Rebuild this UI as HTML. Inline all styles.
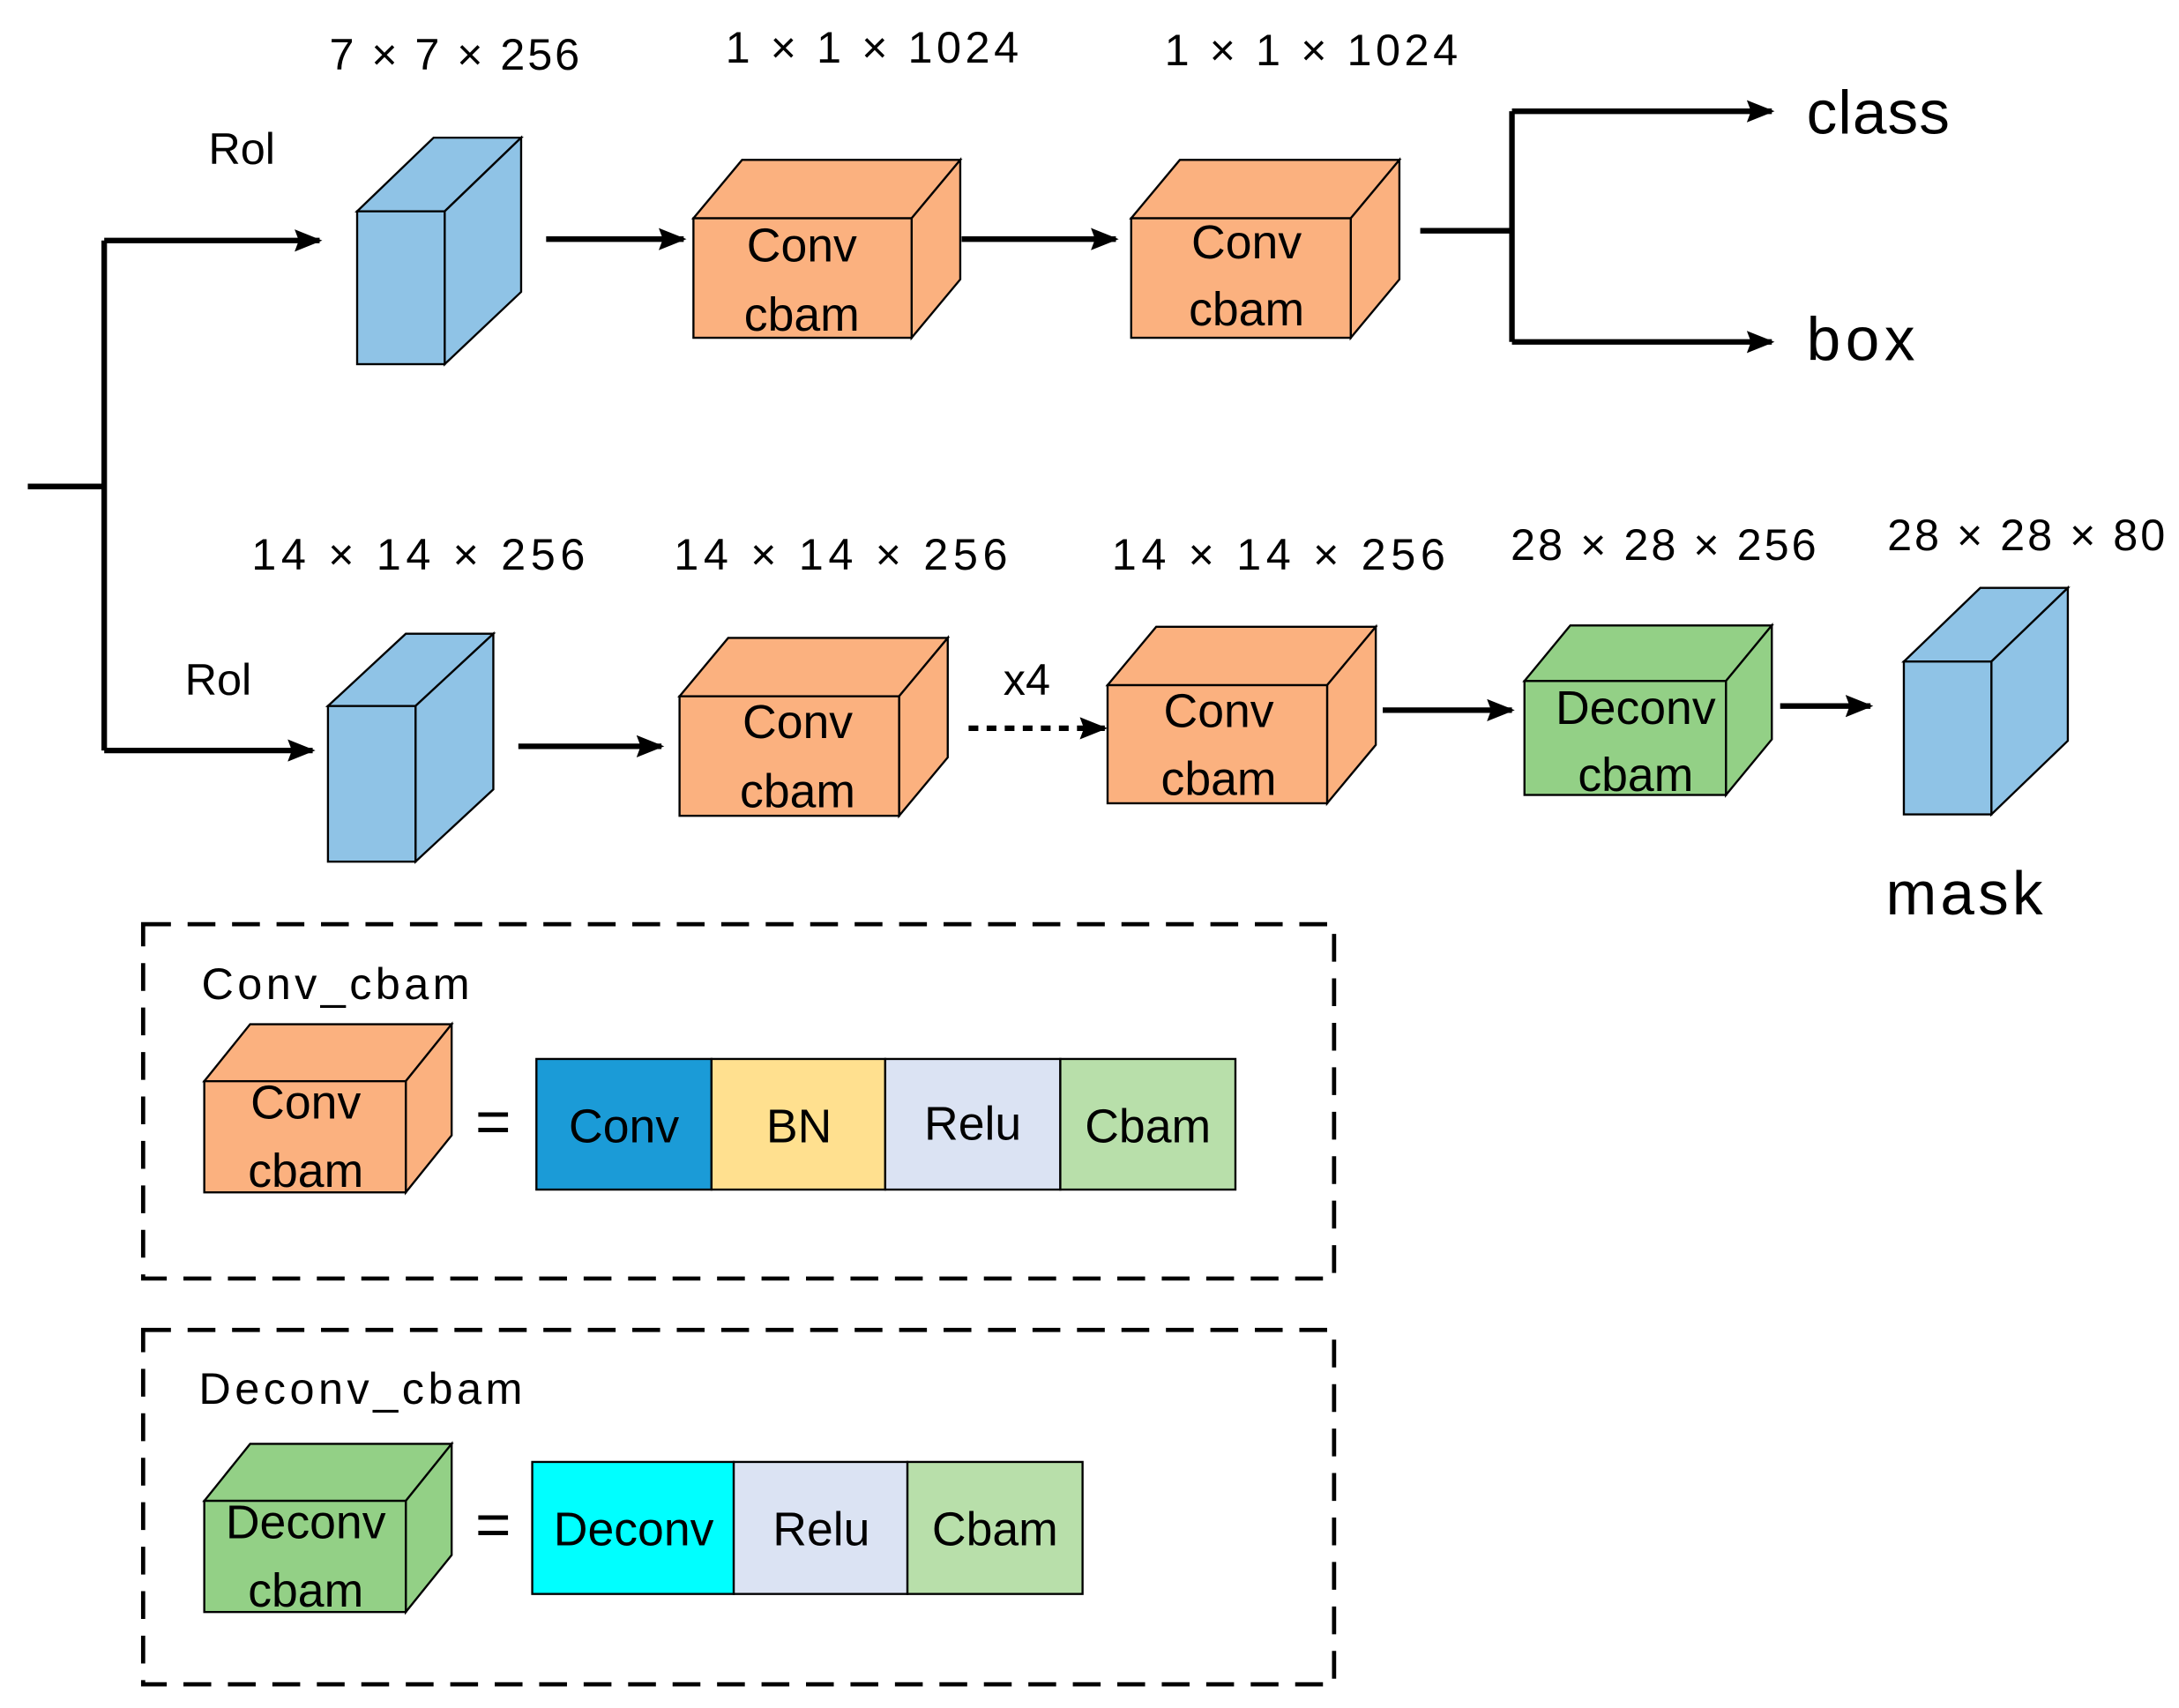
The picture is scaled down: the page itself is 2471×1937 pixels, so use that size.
<!DOCTYPE html>
<html><head><meta charset="utf-8"><style>
html,body{margin:0;padding:0;background:#fff;}
svg{display:block;}
text{font-family:"Liberation Sans",sans-serif;fill:#000;}
</style></head><body>
<svg width="2471" height="1937" viewBox="0 0 1568 1229" xmlns="http://www.w3.org/2000/svg">
<defs>
<marker id="ah2" markerWidth="20" markerHeight="16" refX="18" refY="8" orient="auto" markerUnits="userSpaceOnUse" viewBox="0 0 20 16">
<path d="M0,0 L20,8 L0,16 L3,8 z" fill="#000"/></marker>
</defs>
<g stroke="#000" stroke-width="1.5" stroke-linejoin="miter">
<polygon points="257,152 312,99 375,99 320,152" fill="#8fc3e6"/>
<polygon points="320,152 375,99 375,210 320,262" fill="#8fc3e6"/>
<rect x="257" y="152" width="63" height="110" fill="#8fc3e6"/>
<polygon points="499,157 534,115 691,115 656,157" fill="#fbb17f"/>
<polygon points="656,157 691,115 691,201 656,243" fill="#fbb17f"/>
<rect x="499" y="157" width="157" height="86" fill="#fbb17f"/>
<polygon points="814,157 849,115 1007,115 972,157" fill="#fbb17f"/>
<polygon points="972,157 1007,115 1007,201 972,243" fill="#fbb17f"/>
<rect x="814" y="157" width="158" height="86" fill="#fbb17f"/>
<polygon points="236,508 292,456 355,456 299,508" fill="#8fc3e6"/>
<polygon points="299,508 355,456 355,568 299,620" fill="#8fc3e6"/>
<rect x="236" y="508" width="63" height="112" fill="#8fc3e6"/>
<polygon points="489,501 524,459 682,459 647,501" fill="#fbb17f"/>
<polygon points="647,501 682,459 682,545 647,587" fill="#fbb17f"/>
<rect x="489" y="501" width="158" height="86" fill="#fbb17f"/>
<polygon points="797,493 832,451 990,451 955,493" fill="#fbb17f"/>
<polygon points="955,493 990,451 990,536 955,578" fill="#fbb17f"/>
<rect x="797" y="493" width="158" height="85" fill="#fbb17f"/>
<polygon points="1097,490 1130,450 1275,450 1242,490" fill="#93d086"/>
<polygon points="1242,490 1275,450 1275,532 1242,572" fill="#93d086"/>
<rect x="1097" y="490" width="145" height="82" fill="#93d086"/>
<polygon points="1370,476 1425,423 1488,423 1433,476" fill="#8fc3e6"/>
<polygon points="1433,476 1488,423 1488,533 1433,586" fill="#8fc3e6"/>
<rect x="1370" y="476" width="63" height="110" fill="#8fc3e6"/>
<polygon points="147,778 180,737 325,737 292,778" fill="#fbb17f"/>
<polygon points="292,778 325,737 325,817 292,858" fill="#fbb17f"/>
<rect x="147" y="778" width="145" height="80" fill="#fbb17f"/>
<polygon points="147,1080 180,1039 325,1039 292,1080" fill="#93d086"/>
<polygon points="292,1080 325,1039 325,1119 292,1160" fill="#93d086"/>
<rect x="147" y="1080" width="145" height="80" fill="#93d086"/>
<rect x="386" y="762" width="126" height="94" fill="#1b9bd7"/>
<rect x="512" y="762" width="125" height="94" fill="#ffe08f"/>
<rect x="637" y="762" width="126" height="94" fill="#dbe3f3"/>
<rect x="763" y="762" width="126" height="94" fill="#b8dfaa"/>
<rect x="383" y="1052" width="145" height="95" fill="#00ffff"/>
<rect x="528" y="1052" width="125" height="95" fill="#dbe3f3"/>
<rect x="653" y="1052" width="126" height="95" fill="#b8dfaa"/>
</g>
<g stroke="#000" stroke-width="4" fill="none">
<polyline points="20,350 75,350"/>
<polyline points="75,173 75,540"/>
<line x1="75" y1="173" x2="230" y2="173" marker-end="url(#ah2)"/>
<line x1="75" y1="540" x2="225" y2="540" marker-end="url(#ah2)"/>
<line x1="393" y1="172" x2="492" y2="172" marker-end="url(#ah2)"/>
<line x1="692" y1="172" x2="803" y2="172" marker-end="url(#ah2)"/>
<line x1="1022" y1="166" x2="1088" y2="166"/>
<line x1="1088" y1="80" x2="1088" y2="246"/>
<line x1="1088" y1="80" x2="1275" y2="80" marker-end="url(#ah2)"/>
<line x1="1088" y1="246" x2="1275" y2="246" marker-end="url(#ah2)"/>
<line x1="373" y1="537" x2="476" y2="537" marker-end="url(#ah2)"/>
<line x1="697" y1="524" x2="795" y2="524" stroke-dasharray="7,6" marker-end="url(#ah2)"/>
<line x1="995" y1="511" x2="1088" y2="511" marker-end="url(#ah2)"/>
<line x1="1281" y1="508" x2="1346" y2="508" marker-end="url(#ah2)"/>
</g>
<g stroke="#000" stroke-width="3" fill="none" stroke-dasharray="20,12">
<rect x="103" y="665" width="857" height="255"/>
<rect x="103" y="957" width="857" height="255"/>
</g>
<g font-size="32">
<text x="237" y="50" textLength="180" lengthAdjust="spacing">7 × 7 × 256</text>
<text x="522" y="45" textLength="211" lengthAdjust="spacing">1 × 1  × 1024</text>
<text x="838" y="47" textLength="211" lengthAdjust="spacing">1 × 1  × 1024</text>
<text x="181" y="410" textLength="240" lengthAdjust="spacing">14  × 14  × 256</text>
<text x="485" y="410" textLength="240" lengthAdjust="spacing">14  × 14  × 256</text>
<text x="800" y="410" textLength="240" lengthAdjust="spacing">14  × 14  × 256</text>
<text x="1087" y="403" textLength="220" lengthAdjust="spacing">28 × 28 × 256</text>
<text x="1358" y="396" textLength="200" lengthAdjust="spacing">28 × 28 × 80</text>
<text x="150" y="118">Rol</text>
<text x="133" y="500">Rol</text>
<text x="722" y="500">x4</text>
<text x="145" y="719" textLength="193" lengthAdjust="spacing">Conv_cbam</text>
<text x="143" y="1010" textLength="233" lengthAdjust="spacing">Deconv_cbam</text>
</g>
<g font-size="44">
<text x="1300" y="96" textLength="103" lengthAdjust="spacing">class</text>
<text x="1300" y="259" textLength="78" lengthAdjust="spacing">box</text>
<text x="1357" y="658" textLength="113" lengthAdjust="spacing">mask</text>
<text x="342" y="822">=</text>
<text x="342" y="1112">=</text>
</g>
<g font-size="34" text-anchor="middle">
<text x="577" y="188">Conv</text><text x="577" y="238">cbam</text>
<text x="897" y="186">Conv</text><text x="897" y="234">cbam</text>
<text x="574" y="531">Conv</text><text x="574" y="581">cbam</text>
<text x="877" y="523">Conv</text><text x="877" y="572">cbam</text>
<text x="1177" y="521">Deconv</text><text x="1177" y="569">cbam</text>
<text x="220" y="805">Conv</text><text x="220" y="854">cbam</text>
<text x="220" y="1107">Deconv</text><text x="220" y="1156">cbam</text>
<text x="449" y="822">Conv</text>
<text x="575" y="822">BN</text>
<text x="700" y="820">Relu</text>
<text x="826" y="822">Cbam</text>
<text x="456" y="1112">Deconv</text>
<text x="591" y="1112">Relu</text>
<text x="716" y="1112">Cbam</text>
</g>
</svg>
</body></html>
